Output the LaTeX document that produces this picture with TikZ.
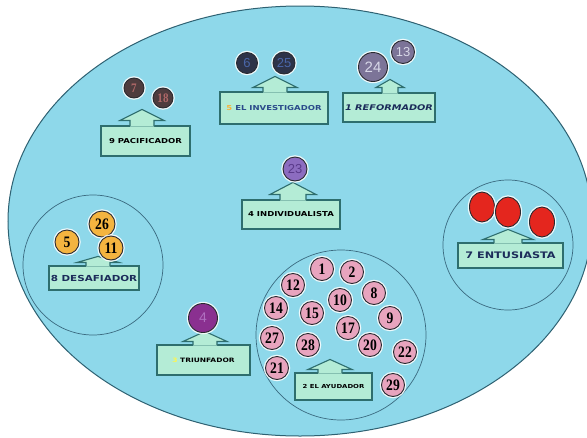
\documentclass[tikz,border=0pt]{standalone}
\usepackage{fontspec}
\usetikzlibrary{shapes.geometric}
\newfontfamily\labfont[FakeStretch=1.25]{DejaVu Sans}
\newfontfamily\numfont[FakeStretch=0.85]{Liberation Serif}
\newfontfamily\numsans{Liberation Sans}
\definecolor{ellcol}{HTML}{8ED8EA}
\definecolor{ellline}{HTML}{2E6172}
\definecolor{subline}{HTML}{3A6A80}
\definecolor{boxfill}{HTML}{B4ECD6}
\definecolor{boxline}{HTML}{2E6E6E}
\definecolor{balline}{HTML}{2A2A30}
\definecolor{pinkc}{HTML}{E8A4BE}
\definecolor{orangec}{HTML}{F4B440}
\definecolor{redc}{HTML}{E4261E}
\definecolor{pacc}{HTML}{4E3C3E}
\definecolor{pacd}{HTML}{B06868}
\definecolor{invc}{HTML}{2D3348}
\definecolor{invd}{HTML}{4A66A8}
\definecolor{refc}{HTML}{7C7498}
\definecolor{refd}{HTML}{D8D8E8}
\definecolor{indc}{HTML}{8C6CC0}
\definecolor{indd}{HTML}{5A3A8A}
\definecolor{tric}{HTML}{8A3090}
\definecolor{trid}{HTML}{B070C0}
\definecolor{navy}{HTML}{1C2C5A}
\definecolor{blueinv}{HTML}{2A4A8A}
\newcommand\callarrow[6]{%
  \fill[callfill] ([xshift=#2pt-#3pt,yshift=-1.2pt]#1.north) -- ++(0pt,#5pt+1.2pt) -- ++(#3pt-#4pt,0pt) -- ++(#4pt,#6pt) -- ++(#4pt,-#6pt) -- ++(#3pt-#4pt,0pt) -- ++(0pt,-#5pt-1.2pt) -- cycle;
  \draw[callline] ([xshift=#2pt-#3pt,yshift=-0.55pt]#1.north) -- ++(0pt,#5pt+0.55pt) -- ++(#3pt-#4pt,0pt) -- ++(#4pt,#6pt) -- ++(#4pt,-#6pt) -- ++(#3pt-#4pt,0pt) -- ++(0pt,-#5pt-0.55pt);
}
\tikzset{
  bigell/.style={fill=ellcol, draw=ellline, line width=1pt},
  subcirc/.style={circle, draw=subline, line width=0.7pt, inner sep=0pt},
  callbox/.style={rectangle, fill=boxfill, draw=boxline, line width=1.1pt, inner sep=0pt, font=\labfont\bfseries\fontsize{6.8}{8}\selectfont},
  callfill/.style={fill=boxfill},
  callline/.style={draw=boxline, line width=1.1pt, line join=miter},
  ball/.style={circle, draw=balline, line width=0.9pt, inner sep=0pt, preaction={draw=white, line width=3.5pt, draw opacity=0.85}},
  pink/.style={ball, fill=pinkc, minimum size=23, text=black, font=\numfont\bfseries\fontsize{16}{16}\selectfont},
  orange/.style={ball, fill=orangec, minimum size=24, text=black, font=\numfont\bfseries\fontsize{16}{16}\selectfont},
  redball/.style={ellipse, draw=balline, line width=0.9pt, inner sep=0pt, fill=redc, minimum width=25, minimum height=30, preaction={draw=white, line width=3.5pt, draw opacity=0.85}},
}
\begin{document}
\begin{tikzpicture}[x=1pt,y=-1pt]
\useasboundingbox (0,0) rectangle (587,437);
\clip (0,0) rectangle (587,437);
\fill[white] (0,0) rectangle (587,437);
\draw[bigell] (300,221) ellipse [x radius=292, y radius=215];
% group circles
\node[subcirc, minimum size=140] (c8) at (93,265) {};
\node[subcirc, minimum size=130] (c7) at (508,245) {};
\node[subcirc, minimum size=170] (c2) at (341,335) {};
% call-out boxes
\node[callbox, minimum width=89, minimum height=30] (b9) at (145.5,141) {9 PACIFICADOR};
\callarrow{b9}{-3.5}{12}{22}{5}{11}
\node[callbox, minimum width=108, minimum height=32, text=blueinv] (b5) at (274,108) {\textcolor{orangec}{5} EL INVESTIGADOR};
\callarrow{b5}{1}{12}{22}{4}{11}
\node[callbox, minimum width=92, minimum height=29, text=navy, font=\labfont\bfseries\itshape\fontsize{7.8}{9}\selectfont] (b1) at (389,107.5) {1 REFORMADOR};
\callarrow{b1}{1}{8}{14}{5}{8}
\node[callbox, minimum width=98, minimum height=29] (b4) at (291,214.5) {4 INDIVIDUALISTA};
\callarrow{b4}{2}{13}{23}{5}{12}
\node[callbox, minimum width=90, minimum height=24, text=navy, font=\labfont\bfseries\fontsize{8.3}{10}\selectfont] (b8) at (94,278) {8 DESAFIADOR};
\callarrow{b8}{4}{12}{21}{3}{6}
\node[callbox, minimum width=105, minimum height=25, text=navy, font=\labfont\bfseries\fontsize{9}{10}\selectfont] (b7) at (510.5,255.5) {7 ENTUSIASTA};
\callarrow{b7}{-2.5}{14}{25}{3}{10}
\node[callbox, minimum width=93, minimum height=30, font=\labfont\bfseries\fontsize{6}{7}\selectfont] (b3) at (203.5,360) {\textcolor{yellow!70!white}{3} TRIUNFADOR};
\callarrow{b3}{1.5}{12}{22}{3}{10}
\node[callbox, minimum width=77, minimum height=27, font=\labfont\bfseries\fontsize{5.5}{7}\selectfont] (b2) at (333.5,386.5) {2 EL AYUDADOR};
\callarrow{b2}{-3.5}{12}{22}{3}{10}
% 9 pacificador
\node[ball, fill=pacc, minimum size=20, text=pacd, font=\numfont\bfseries\fontsize{13}{13}\selectfont] (p7) at (134,88) {7};
\node[ball, fill=pacc, minimum size=20, text=pacd, font=\numfont\bfseries\fontsize{13}{13}\selectfont] (p18) at (163,98) {18};
% 5 investigador
\node[ball, fill=invc, minimum size=21, text=invd, font=\numsans\fontsize{13}{13}\selectfont] (p6) at (247,63) {6};
\node[ball, fill=invc, minimum size=22, text=invd, font=\numsans\fontsize{13}{13}\selectfont] (p25) at (284,63) {25};
% 1 reformador
\node[ball, fill=refc, minimum size=29, text=refd, font=\numsans\fontsize{15}{15}\selectfont] (p24) at (373,67) {24};
\node[ball, fill=refc, minimum size=23, text=refd, font=\numsans\fontsize{13}{13}\selectfont] (p13) at (403,52) {13};
% 4 individualista
\node[ball, fill=indc, minimum size=24, text=indd, font=\numsans\fontsize{13}{13}\selectfont] (p23) at (295,169) {23};
% 8 desafiador
\node[orange, minimum size=26] (p26) at (102,224) {26};
\node[orange] (p5) at (67,242) {5};
\node[orange] (p11) at (111,248) {11};
% 7 entusiasta
\node[redball] (r1) at (482,207) {};
\node[redball] (r2) at (508,212) {};
\node[redball] (r3) at (542,222) {};
% 3 triunfador
\node[ball, fill=tric, minimum size=29, text=trid, font=\numsans\fontsize{14}{14}\selectfont] (p4) at (203,318) {4};
% 2 ayudador
\node[pink] (q1) at (322,269) {1};
\node[pink] (q2) at (352,272) {2};
\node[pink] (q12) at (293,285) {12};
\node[pink] (q10) at (340,300) {10};
\node[pink] (q8) at (374,293) {8};
\node[pink] (q14) at (276,308) {14};
\node[pink] (q15) at (312,313) {15};
\node[pink] (q9) at (390,318) {9};
\node[pink] (q17) at (348,328) {17};
\node[pink] (q27) at (272,338) {27};
\node[pink] (q28) at (308,345) {28};
\node[pink] (q20) at (370,345) {20};
\node[pink] (q22) at (405,352) {22};
\node[pink] (q21) at (277,368) {21};
\node[pink] (q29) at (393,385) {29};
\end{tikzpicture}
\end{document}
